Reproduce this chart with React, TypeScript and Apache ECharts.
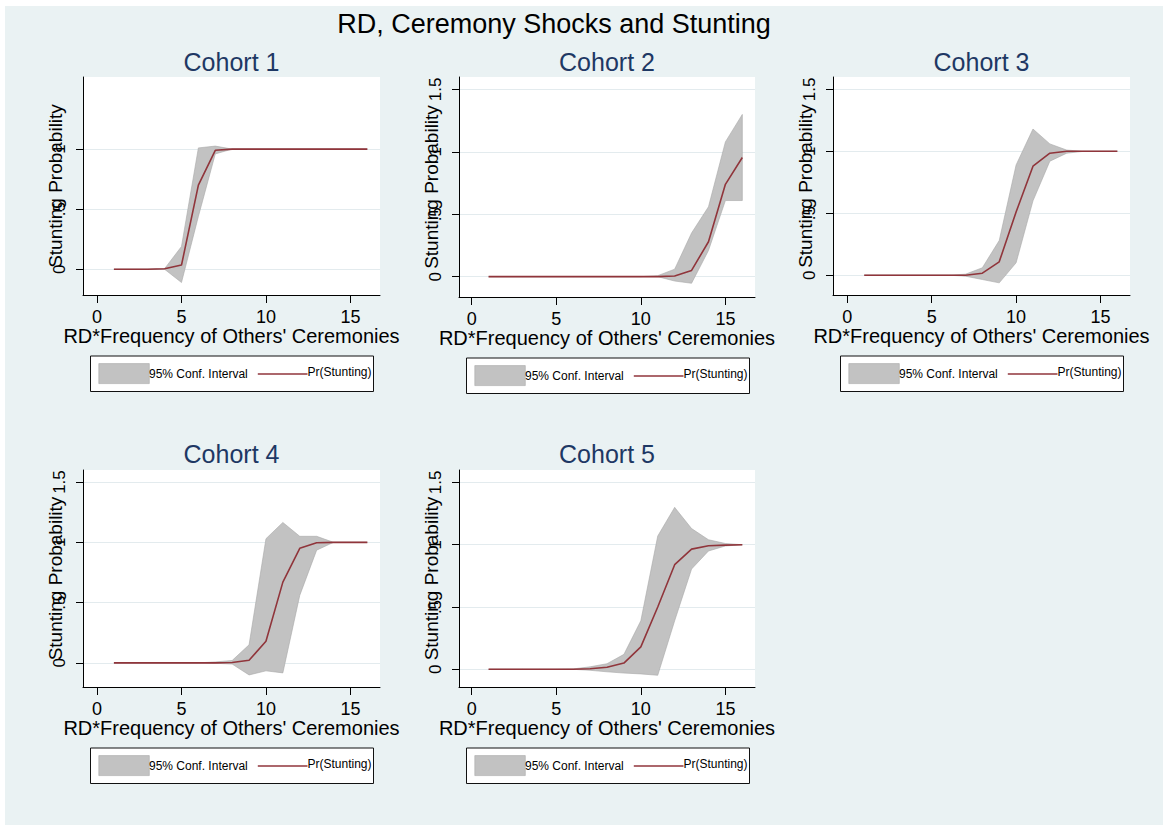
import React, { useEffect, useRef } from 'react';
import * as echarts from 'echarts';

// ---------------- data ----------------
const xValues = [1, 2, 3, 4, 5, 6, 7, 8, 9, 10, 11, 12, 13, 14, 15, 16];

const c1Pr = [0, 0, 0, 0.005, 0.035, 0.70, 0.99, 1, 1, 1, 1, 1, 1, 1, 1, 1];
const c1Hi = [0, 0, 0, 0.005, 0.19, 1.01, 1.025, 1, 1, 1, 1, 1, 1, 1, 1, 1];
const c1Lo = [0, 0, 0, 0, -0.11, 0.44, 0.96, 1, 1, 1, 1, 1, 1, 1, 1, 1];

const c2Pr = [0, 0, 0, 0, 0, 0, 0, 0, 0, 0, 0, 0.005, 0.05, 0.28, 0.74, 0.955];
const c2Hi = [0, 0, 0, 0, 0, 0, 0, 0, 0, 0, 0.008, 0.06, 0.35, 0.56, 1.08, 1.30];
const c2Lo = [0, 0, 0, 0, 0, 0, 0, 0, 0, 0, 0, -0.035, -0.053, 0.21, 0.61, 0.61];

const c3Pr = [0, 0, 0, 0, 0, 0, 0, 0.016, 0.108, 0.51, 0.88, 0.985, 1, 1, 1, 1];
const c3Hi = [0, 0, 0, 0, 0, 0, 0.008, 0.06, 0.28, 0.89, 1.18, 1.06, 1.01, 1, 1, 1];
const c3Lo = [0, 0, 0, 0, 0, 0, -0.008, -0.035, -0.062, 0.10, 0.60, 0.92, 0.985, 1, 1, 1];

const c4Pr = [0, 0, 0, 0, 0, 0, 0, 0.003, 0.022, 0.18, 0.67, 0.95, 0.997, 1, 1, 1];
const c4Hi = [0, 0, 0, 0, 0, 0, 0.008, 0.02, 0.15, 1.03, 1.165, 1.05, 1.05, 1, 1, 1];
const c4Lo = [0, 0, 0, 0, 0, 0, -0.003, -0.01, -0.10, -0.066, -0.083, 0.56, 0.935, 1, 1, 1];

const c5Pr = [0, 0, 0, 0, 0, 0, 0.005, 0.016, 0.05, 0.18, 0.50, 0.84, 0.965, 0.992, 0.997, 1];
const c5Hi = [0, 0, 0, 0, 0, 0.003, 0.02, 0.045, 0.12, 0.39, 1.07, 1.30, 1.13, 1.04, 1.01, 1];
const c5Lo = [0, 0, 0, 0, 0, 0, -0.008, -0.02, -0.03, -0.037, -0.048, 0.39, 0.805, 0.95, 0.99, 1];

const cohortNames = ['Cohort 1', 'Cohort 2', 'Cohort 3', 'Cohort 4', 'Cohort 5'];
const cohortPr = [c1Pr, c2Pr, c3Pr, c4Pr, c5Pr];
const cohortHi = [c1Hi, c2Hi, c3Hi, c4Hi, c5Hi];
const cohortLo = [c1Lo, c2Lo, c3Lo, c4Lo, c5Lo];

const xTickValues = [0, 5, 10, 15];
const yTickValues = [0, 0.5, 1, 1.5];
const yTickLabels = ['0', '.5', '1', '1.5'];

const mainTitle = 'RD, Ceremony Shocks and Stunting';
const xAxisTitle = "RD*Frequency of Others' Ceremonies";
const yAxisTitle = 'Stunting Probability';
const ciLegend = '95% Conf. Interval';
const prLegend = 'Pr(Stunting)';

// ---------------- layout (page coordinates) ----------------
const OX = 5;
const OY = 6;
const FONT = 'Liberation Sans, Arial, Helvetica, sans-serif';
const BG = '#eaf2f3';
const LINE_COLOR = '#90353b';
const CI_FILL = '#c2c2c2';
const CI_STROKE = '#a8a8a8';
const TITLE_COLOR = '#1e3864';

const panels = [
  { left: 83, top: 77, width: 297, height: 218, yMin: -0.214, xMin: -0.83, nTicks: 3 },
  { left: 459, top: 77, width: 296, height: 220, yMin: -0.163, xMin: -0.75, nTicks: 4 },
  { left: 833, top: 77, width: 297, height: 218, yMin: -0.16, xMin: -0.85, nTicks: 4 },
  { left: 83, top: 470, width: 297, height: 217, yMin: -0.2, xMin: -0.83, nTicks: 4 },
  { left: 459, top: 470, width: 296, height: 217, yMin: -0.142, xMin: -0.75, nTicks: 4 },
];

function buildOption() {
  const grid: any[] = [];
  const xAxis: any[] = [];
  const yAxis: any[] = [];
  const series: any[] = [];
  const graphic: any[] = [];

  graphic.push({
    type: 'text',
    x: 554 - OX,
    y: 23.5 - OY,
    style: { text: mainTitle, fontSize: 27, fontFamily: FONT, fill: '#000', align: 'center', verticalAlign: 'middle' },
  });

  panels.forEach((p, i) => {
    const ticks = yTickValues.slice(0, p.nTicks);
    grid.push({
      left: p.left - OX,
      top: p.top - OY,
      width: p.width,
      height: p.height,
      show: true,
      backgroundColor: '#ffffff',
      borderWidth: 0,
      containLabel: false,
      outerBoundsMode: 'none',
    });
    xAxis.push({
      gridIndex: i,
      type: 'value',
      min: p.xMin,
      max: 16.75,
      axisLine: { show: true, onZero: false, lineStyle: { color: '#000', width: 1 } },
      axisTick: { show: true, length: 8, customValues: xTickValues, lineStyle: { color: '#000', width: 1 } },
      axisLabel: { customValues: xTickValues, margin: 13, fontSize: 18, color: '#000', fontFamily: FONT },
      splitLine: { show: false },
      name: xAxisTitle,
      nameLocation: 'middle',
      nameGap: 31,
      nameMoveOverlap: false,
      nameTextStyle: { fontSize: 20, color: '#000', fontFamily: FONT },
    });
    yAxis.push({
      gridIndex: i,
      type: 'value',
      min: p.yMin,
      max: 1.6,
      axisLine: { show: true, onZero: false, lineStyle: { color: '#000', width: 1 } },
      axisTick: { show: true, length: 7, customValues: ticks, lineStyle: { color: '#000', width: 1 } },
      axisLabel: {
        customValues: ticks,
        rotate: 90,
        margin: 15,
        fontSize: 17,
        color: '#000',
        fontFamily: FONT,
        formatter: (v: number) => {
          const k = yTickValues.findIndex((t) => Math.abs(t - v) < 1e-9);
          return k >= 0 ? yTickLabels[k] : '';
        },
      },
      splitLine: { show: true, lineStyle: { color: '#e3ebee', width: 1 } },
      name: yAxisTitle,
      nameLocation: 'middle',
      nameGap: 18,
      nameMoveOverlap: false,
      nameTextStyle: { fontSize: 19, color: '#000', fontFamily: FONT },
    });

    const hi = cohortHi[i];
    const lo = cohortLo[i];
    const pr = cohortPr[i];

    series.push({
      type: 'custom',
      name: ciLegend,
      xAxisIndex: i,
      yAxisIndex: i,
      z: 2,
      data: xValues.map((x, k) => [x, lo[k], hi[k]]),
      encode: { x: 0, y: [1, 2] },
      renderItem: (params: any, api: any) => {
        if (params.dataIndex !== 0) return null;
        const pts: number[][] = [];
        for (let k = 0; k < xValues.length; k++) pts.push(api.coord([xValues[k], hi[k]]));
        for (let k = xValues.length - 1; k >= 0; k--) pts.push(api.coord([xValues[k], lo[k]]));
        return {
          type: 'polygon',
          shape: { points: pts },
          style: { fill: CI_FILL, stroke: CI_STROKE, lineWidth: 0.6 },
        };
      },
    });
    series.push({
      type: 'line',
      name: prLegend,
      xAxisIndex: i,
      yAxisIndex: i,
      z: 3,
      data: xValues.map((x, k) => [x, pr[k]]),
      symbol: 'none',
      showSymbol: false,
      lineStyle: { color: LINE_COLOR, width: 1.6 },
      itemStyle: { color: LINE_COLOR },
    });

    // subtitle
    const cx = p.left + p.width / 2;
    const subY = i < 3 ? 61.5 : 454;
    graphic.push({
      type: 'text',
      x: cx - OX,
      y: subY - OY,
      style: { text: cohortNames[i], fontSize: 25, fontFamily: FONT, fill: TITLE_COLOR, align: 'center', verticalAlign: 'middle' },
    });

    // legend box
    const bx = p.left + 7.5 - OX;
    const by = p.top + p.height + 61 - OY;
    graphic.push({
      type: 'group',
      x: bx,
      y: by,
      children: [
        { type: 'rect', shape: { x: 0, y: 0, width: 283, height: 35.5 }, style: { fill: '#fff', stroke: '#111', lineWidth: 1 } },
        { type: 'rect', shape: { x: 8.3, y: 7.6, width: 50.5, height: 20 }, style: { fill: CI_FILL, stroke: CI_STROKE, lineWidth: 0.6 } },
        {
          type: 'text', x: 58.5, y: 17.8,
          style: { text: ciLegend, fontSize: 12, fontFamily: FONT, fill: '#000', align: 'left', verticalAlign: 'middle' },
        },
        { type: 'line', shape: { x1: 167.3, y1: 18, x2: 217, y2: 18 }, style: { stroke: LINE_COLOR, lineWidth: 1.6 } },
        {
          type: 'text', x: 217, y: 15.5,
          style: { text: prLegend, fontSize: 12, fontFamily: FONT, fill: '#000', align: 'left', verticalAlign: 'middle' },
        },
      ],
    });
  });

  return {
    animation: false,
    backgroundColor: BG,
    grid,
    xAxis,
    yAxis,
    series,
    graphic,
  };
}

export default function App() {
  const ref = useRef<HTMLDivElement>(null);
  useEffect(() => {
    if (!ref.current) return;
    const chart = echarts.init(ref.current, undefined, { renderer: 'svg' });
    chart.setOption(buildOption() as any);
    return () => chart.dispose();
  }, []);
  return (
    <div style={{ position: 'absolute', left: 0, top: 0, width: 1163, height: 825, background: '#ffffff' }}>
      <div ref={ref} style={{ position: 'absolute', left: OX, top: OY, width: 1163 - OX, height: 825 - OY }} />
    </div>
  );
}
